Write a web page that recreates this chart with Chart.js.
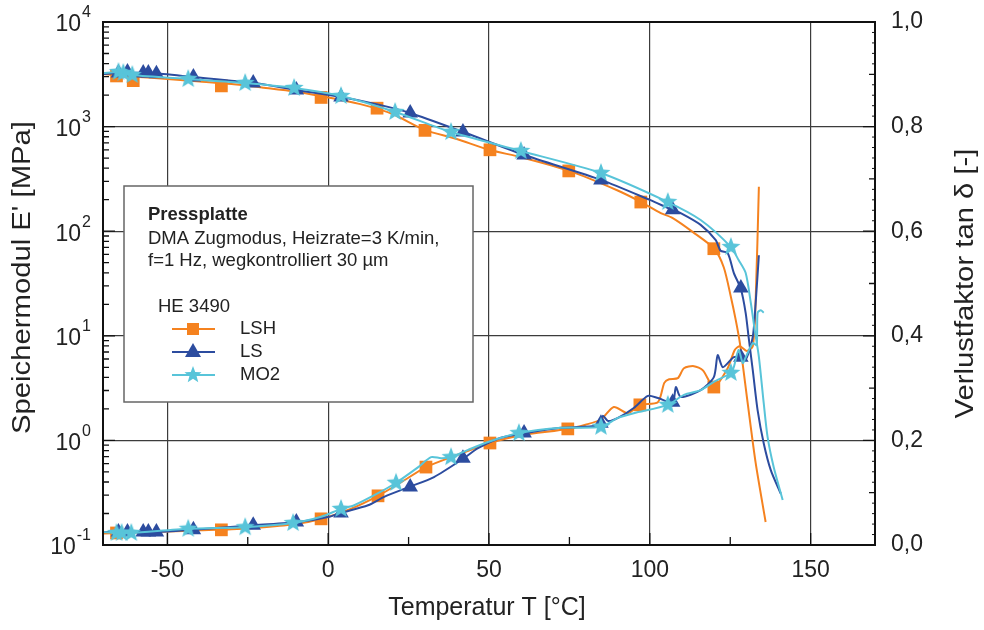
<!DOCTYPE html>
<html>
<head>
<meta charset="utf-8">
<script src="https://cdn.jsdelivr.net/npm/chart.js@4.4.1/dist/chart.umd.min.js"></script>
<style>
  html, body { margin: 0; padding: 0; background: #fff; }
  #wrap { width: 984px; height: 630px; }
</style>
</head>
<body>
<div id="wrap"><canvas id="chart" width="984" height="630"></canvas></div>
<script>
const FONT = '"Liberation Sans", Arial, Helvetica, sans-serif';
const TXT = '#222';
const GRID = '#3c3c3c';
const COL_LSH = '#f5821f';
const COL_LS = '#2c4c9f';
const COL_MO2 = '#58c4d9';

// axis ticks
const tempTicks = [-50, 0, 50, 100, 150];
const tempMinor = [-25, 25, 75, 125];
const decades = [0.1, 1, 10, 100, 1000, 10000];
const tanTicks = [0, 0.2, 0.4, 0.6, 0.8, 1.0];

// LSH: storage modulus E' [MPa] over temperature [°C]
const lshModT = [-70, -60, -50, -40, -30, -20, -10, 0, 10, 20, 30, 40, 50, 60, 75, 90, 97, 103.4, 107, 113.4, 120, 123, 125.2, 126.7, 128, 130.4, 132.9, 136];
const lshModE = [3180, 3000, 2850, 2700, 2550, 2350, 2150, 1900, 1640, 1320, 930, 760, 600, 510, 377, 245, 192, 149, 134, 98, 68, 45, 23.5, 14.2, 8.5, 2.3, 0.61, 0.166];
const lshModMarkT = [-65.8, -60.6, -33.2, -2.2, 15.2, 30.1, 50.3, 74.8, 97.2, 119.9];
const lshModMarkE = [3050, 2750, 2450, 1900, 1500, 920, 600, 377, 190, 68];
// LSH: loss factor tan d
const lshTanT = [-70, -60, -50, -40, -30, -20, -10, -2, 7, 15.5, 22.7, 30.4, 40, 50.3, 60, 74.5, 80, 84.8, 88.8, 93.2, 96.9, 102.5, 104.5, 106, 108.7, 110.6, 113.7, 116.5, 119.9, 124.2, 126.4, 128, 130.1, 132, 132.9, 133.9];
const lshTanV = [0.022, 0.024, 0.026, 0.028, 0.030, 0.034, 0.040, 0.050, 0.069, 0.094, 0.120, 0.149, 0.172, 0.195, 0.210, 0.222, 0.230, 0.240, 0.264, 0.252, 0.268, 0.273, 0.310, 0.317, 0.319, 0.338, 0.342, 0.334, 0.302, 0.338, 0.373, 0.380, 0.371, 0.380, 0.468, 0.685];
const lshTanMarkT = [-65.8, -33.2, -2.2, 15.5, 30.4, 50.3, 74.5, 96.9, 119.9];
const lshTanMarkV = [0.023, 0.029, 0.050, 0.094, 0.149, 0.195, 0.222, 0.268, 0.302];

// LS
const lsModT = [-70, -65, -55, -42, -23, -10, 4, 15, 25.5, 42, 61, 85, 100, 107, 109.6, 115.8, 120.5, 122, 124.2, 126.1, 128.3, 129.8, 130.7, 132, 133.5, 135.4, 137.6, 140.7];
const lsModE = [3190, 3250, 3250, 2980, 2610, 2240, 1920, 1640, 1350, 887, 535, 308, 199, 160, 149, 115, 82, 65, 62, 40, 28, 16.5, 9.75, 4.7, 1.95, 0.94, 0.52, 0.31];
const lsMarkT = [-65.2, -62.4, -57.5, -55.9, -53.4, -41.9, -23.3, -9.9, 4.0, 25.5, 41.9, 60.9, 84.8, 107.1, 128.3];
const lsModMarkE = [3250, 3330, 3250, 3250, 3200, 2980, 2610, 2240, 1920, 1350, 887, 535, 308, 160, 28.6];
const lsTanT = [-70, -65, -53, -42, -23, -9.3, 0.3, 3.7, 12.4, 17.4, 25.2, 32.9, 42.2, 46.6, 53.7, 61.5, 72.4, 83.9, 85.4, 87, 90.1, 95, 99.4, 102.5, 107.1, 108.1, 109.6, 115.8, 119.9, 121.1, 122.7, 126.1, 128.3, 129.8, 132, 132.9, 133.9];
const lsTanV = [0.025, 0.025, 0.025, 0.029, 0.038, 0.044, 0.054, 0.061, 0.076, 0.092, 0.111, 0.130, 0.166, 0.185, 0.205, 0.214, 0.224, 0.229, 0.247, 0.237, 0.243, 0.262, 0.285, 0.281, 0.273, 0.302, 0.283, 0.296, 0.321, 0.363, 0.340, 0.359, 0.359, 0.354, 0.398, 0.463, 0.554];
const lsTanMarkV = [0.025, 0.025, 0.025, 0.025, 0.025, 0.029, 0.038, 0.044, 0.061, 0.111, 0.166, 0.214, 0.233, 0.273, 0.359];

// MO2
const moModT = [-70, -65.2, -60.9, -43.5, -25.8, -10.6, 4, 20.8, 38.2, 59.9, 84.8, 105.6, 115.8, 125.2, 127.6, 129.8, 131.4, 132.6, 133.9, 135.4, 136.6, 138.5, 141.3];
const moModE = [3250, 3330, 3110, 2850, 2610, 2340, 1960, 1380, 887, 585, 360, 190, 128, 70.6, 53, 39.8, 20.6, 11.4, 6.3, 2.28, 1.08, 0.557, 0.269];
const moModMarkT = [-65.2, -63.7, -60.9, -43.5, -25.8, -10.6, 4.0, 20.8, 38.2, 59.9, 84.8, 105.6, 125.2];
const moModMarkE = [3330, 3250, 3110, 2850, 2610, 2340, 1960, 1380, 887, 585, 360, 190, 70.6];
const moTanT = [-70, -65.8, -61.2, -43.5, -25.8, -10.9, -2.2, 4, 8.1, 15.5, 21.1, 28, 32, 35.1, 38.2, 43.5, 49.7, 59.3, 72.4, 84.8, 90.1, 95, 105.6, 110.6, 115.8, 119.9, 125.2, 126.1, 127.6, 128.9, 129.8, 132, 133.2, 133.5, 134.5, 135.4];
const moTanV = [0.025, 0.023, 0.023, 0.031, 0.034, 0.042, 0.054, 0.069, 0.076, 0.099, 0.119, 0.149, 0.168, 0.166, 0.168, 0.182, 0.197, 0.214, 0.224, 0.226, 0.243, 0.252, 0.268, 0.287, 0.296, 0.312, 0.329, 0.340, 0.373, 0.348, 0.359, 0.386, 0.382, 0.444, 0.449, 0.444];
const moTanMarkT = [-65.8, -64.2, -61.2, -43.5, -25.8, -10.9, 4.0, 21.1, 38.2, 59.3, 84.8, 105.6, 125.2];
const moTanMarkV = [0.023, 0.023, 0.023, 0.031, 0.034, 0.042, 0.069, 0.119, 0.168, 0.214, 0.226, 0.268, 0.329];

function pts(xs, ys) {
    return xs.map((x, i) => ({ x: x, y: ys[i] }));
}

// filled five-pointed star used as point style
function makeStar(color, outer) {
    const c = document.createElement('canvas');
    const size = Math.ceil(outer * 2 + 2);
    c.width = size;
    c.height = size;
    const g = c.getContext('2d');
    const inner = outer * 0.42;
    g.beginPath();
    for (let i = 0; i < 10; i++) {
        const r = i % 2 === 0 ? outer : inner;
        const a = -Math.PI / 2 + i * Math.PI / 5;
        const px = size / 2 + Math.cos(a) * r;
        const py = size / 2 + Math.sin(a) * r;
        if (i === 0) g.moveTo(px, py); else g.lineTo(px, py);
    }
    g.closePath();
    g.fillStyle = color;
    g.fill();
    return c;
}
const starImg = makeStar(COL_MO2, 10);
const starSmall = makeStar(COL_MO2, 9);

function curve(label, data, color, axis, order) {
    return {
        label: label,
        data: data,
        yAxisID: axis,
        borderColor: color,
        borderWidth: 2,
        pointRadius: 0,
        tension: 0.25,
        fill: false,
        order: order
    };
}

function markers(label, data, color, axis, style, radius, order) {
    return {
        label: label,
        data: data,
        yAxisID: axis,
        showLine: false,
        pointStyle: style,
        pointRadius: radius,
        pointBackgroundColor: color,
        pointBorderColor: color,
        pointBorderWidth: 0,
        order: order
    };
}

// vertical axis title, stretched a little along the text
function verticalTitle(ctx, text, x, y) {
    ctx.save();
    ctx.translate(x, y);
    ctx.rotate(-Math.PI / 2);
    ctx.scale(1.17, 1);
    ctx.fillText(text, 0, 0);
    ctx.restore();
}

// keep the vertical axes from reserving room for overhanging labels
function noOverhang(s, width) {
    s.width = width;
    s.paddingTop = 0;
    s.paddingBottom = 0;
}

// labels, frame, inward ticks and the legend box
const decor = {
    id: 'decor',
    afterDatasetsDraw(chart) {
        const ctx = chart.ctx;
        const a = chart.chartArea;
        const xs = chart.scales.x, yE = chart.scales.yE, yT = chart.scales.yT;

        ctx.save();
        // inward tick marks
        ctx.strokeStyle = '#111';
        ctx.lineWidth = 1.3;
        ctx.beginPath();
        tempMinor.forEach(v => {
            const px = xs.getPixelForValue(v);
            ctx.moveTo(px, a.bottom); ctx.lineTo(px, a.bottom - 8);
        });
        tempTicks.forEach(v => {
            const px = xs.getPixelForValue(v);
            ctx.moveTo(px, a.bottom); ctx.lineTo(px, a.bottom - 12);
        });
        decades.forEach(d => {
            if (d >= 10000) return;
            for (let k = 2; k <= 9; k++) {
                const py = yE.getPixelForValue(d * k);
                ctx.moveTo(a.left, py); ctx.lineTo(a.left + 6, py);
            }
        });
        decades.forEach(d => {
            const py = yE.getPixelForValue(d);
            ctx.moveTo(a.left, py); ctx.lineTo(a.left + 12, py);
        });
        for (let i = 1; i < 10; i += 2) {
            const py = yT.getPixelForValue(i / 10);
            ctx.moveTo(a.right, py); ctx.lineTo(a.right - 6, py);
        }
        tanTicks.forEach(v => {
            const py = yT.getPixelForValue(v);
            ctx.moveTo(a.right, py); ctx.lineTo(a.right - 12, py);
        });
        ctx.stroke();
        ctx.lineWidth = 1;
        ctx.beginPath();
        for (let i = 1; i < 50; i++) {
            if (i % 5 === 0) continue;
            const py = yT.getPixelForValue(i / 50);
            ctx.moveTo(a.right, py); ctx.lineTo(a.right - 3, py);
        }
        ctx.stroke();

        // frame
        ctx.lineWidth = 2;
        ctx.strokeStyle = '#111';
        ctx.strokeRect(a.left, a.top, a.right - a.left, a.bottom - a.top);

        // left tick labels with exponent
        ctx.fillStyle = TXT;
        ctx.textBaseline = 'middle';
        decades.forEach(d => {
            const py = yE.getPixelForValue(d);
            const exp = String(Math.round(Math.log10(d)));
            ctx.font = '16px ' + FONT;
            const ew = ctx.measureText(exp).width;
            ctx.textAlign = 'left';
            const right = a.left - 12;
            ctx.fillText(exp, right - ew, py - 9);
            ctx.font = '23px ' + FONT;
            ctx.textAlign = 'right';
            ctx.fillText('10', right - ew - 1, py + 3);
        });

        // axis titles
        ctx.font = '25px ' + FONT;
        ctx.textAlign = 'center';
        ctx.fillText('Temperatur T [°C]', (a.left + a.right) / 2 - 2, 608);
        const midY = (a.top + a.bottom) / 2;
        verticalTitle(ctx, 'Speichermodul E\' [MPa]', 23, midY - 6);
        verticalTitle(ctx, 'Verlustfaktor tan δ [-]', 966, midY);

        // legend box
        ctx.fillStyle = '#fff';
        ctx.fillRect(124, 186, 349, 216);
        ctx.strokeStyle = '#666';
        ctx.lineWidth = 1.5;
        ctx.strokeRect(124, 186, 349, 216);
        ctx.fillStyle = TXT;
        ctx.textAlign = 'left';
        ctx.font = 'bold 18.5px ' + FONT;
        ctx.fillText('Pressplatte', 148, 215);
        ctx.font = '18.5px ' + FONT;
        ctx.fillText('DMA Zugmodus, Heizrate=3 K/min,', 148, 239);
        ctx.fillText('f=1 Hz, wegkontrolliert 30 µm', 148, 261);
        ctx.fillText('HE 3490', 158, 307);
        const rows = [
            { name: 'LSH', color: COL_LSH, y: 329 },
            { name: 'LS', color: COL_LS, y: 352 },
            { name: 'MO2', color: COL_MO2, y: 375 }
        ];
        rows.forEach(r => {
            ctx.strokeStyle = r.color;
            ctx.lineWidth = 2;
            ctx.beginPath();
            ctx.moveTo(172, r.y); ctx.lineTo(215, r.y);
            ctx.stroke();
            ctx.fillStyle = r.color;
            if (r.name === 'LSH') {
                ctx.fillRect(187, r.y - 6, 12, 12);
            } else if (r.name === 'LS') {
                ctx.beginPath();
                ctx.moveTo(193, r.y - 9);
                ctx.lineTo(201, r.y + 5);
                ctx.lineTo(185, r.y + 5);
                ctx.closePath();
                ctx.fill();
            } else {
                ctx.drawImage(starSmall, 193 - starSmall.width / 2, r.y - starSmall.height / 2);
            }
            ctx.fillStyle = TXT;
            ctx.font = '18.5px ' + FONT;
            ctx.fillText(r.name, 240, r.y);
        });
        ctx.restore();
    }
};

new Chart(document.getElementById('chart'), {
    type: 'line',
    data: {
        datasets: [
            markers('MO2', pts(moModMarkT, moModMarkE), COL_MO2, 'yE', starImg, 10, 1),
            markers('MO2', pts(moTanMarkT, moTanMarkV), COL_MO2, 'yT', starImg, 10, 1),
            curve('MO2', pts(moModT, moModE), COL_MO2, 'yE', 2),
            curve('MO2', pts(moTanT, moTanV), COL_MO2, 'yT', 2),
            markers('LS', pts(lsMarkT, lsModMarkE), COL_LS, 'yE', 'triangle', 9, 3),
            markers('LS', pts(lsMarkT, lsTanMarkV), COL_LS, 'yT', 'triangle', 9, 3),
            curve('LS', pts(lsModT, lsModE), COL_LS, 'yE', 4),
            curve('LS', pts(lsTanT, lsTanV), COL_LS, 'yT', 4),
            markers('LSH', pts(lshModMarkT, lshModMarkE), COL_LSH, 'yE', 'rect', 9, 5),
            markers('LSH', pts(lshTanMarkT, lshTanMarkV), COL_LSH, 'yT', 'rect', 9, 5),
            curve('LSH', pts(lshModT, lshModE), COL_LSH, 'yE', 6),
            curve('LSH', pts(lshTanT, lshTanV), COL_LSH, 'yT', 6)
        ]
    },
    options: {
        responsive: false,
        animation: false,
        events: [],
        layout: { padding: { top: 22, left: 0, right: 0, bottom: 0 } },
        plugins: {
            legend: { display: false },
            tooltip: { enabled: false }
        },
        scales: {
            x: {
                type: 'linear',
                min: -70,
                max: 170,
                afterBuildTicks: s => { s.ticks = tempTicks.map(v => ({ value: v })); },
                afterFit: s => { s.height = 85; s.paddingLeft = 0; s.paddingRight = 0; },
                grid: { color: GRID, lineWidth: 1.2, drawTicks: false },
                border: { display: false },
                ticks: {
                    font: { family: FONT, size: 23 },
                    color: TXT,
                    padding: 12,
                    maxRotation: 0,
                    callback: v => String(v)
                }
            },
            yE: {
                type: 'logarithmic',
                position: 'left',
                min: 0.1,
                max: 10000,
                afterBuildTicks: s => { s.ticks = decades.map(v => ({ value: v })); },
                afterFit: s => noOverhang(s, 103),
                grid: { color: GRID, lineWidth: 1.2, drawTicks: false },
                border: { display: false },
                ticks: { display: false }
            },
            yT: {
                type: 'linear',
                position: 'right',
                min: 0,
                max: 1,
                afterBuildTicks: s => { s.ticks = tanTicks.map(v => ({ value: v })); },
                afterFit: s => noOverhang(s, 109),
                grid: { drawOnChartArea: false, drawTicks: false },
                border: { display: false },
                ticks: {
                    font: { family: FONT, size: 23 },
                    color: TXT,
                    padding: 16,
                    callback: v => v.toFixed(1).replace('.', ',')
                }
            }
        }
    },
    plugins: [decor]
});
</script>
</body>
</html>
